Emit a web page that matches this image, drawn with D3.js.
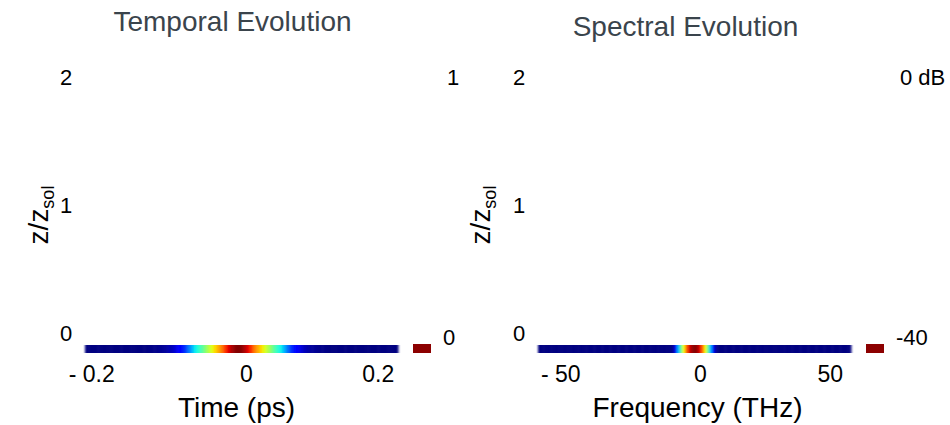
<!DOCTYPE html>
<html><head><meta charset="utf-8">
<script src="https://cdn.jsdelivr.net/npm/d3@7"></script>
<style>body{margin:0;background:#fff}svg{display:block;font-family:"Liberation Sans",Arial,sans-serif}</style>
</head><body><svg id="c" width="950" height="425"></svg>
<script>
// ---------- data ----------
const zTicks = [0, 1, 2];
const zRows = [0];
const zStep = 0.0625;
const timeTicks = [-0.2, 0, 0.2];
const timeTickLabels = ["- 0.2", "0", "0.2"];
const freqTicks = [-50, 0, 50];
const freqTickLabels = ["- 50", "0", "50"];
const timeStart = -0.235, timeStep = 0.005;
const intensity = [
 0,0,0,0,0,0,0,0,0,0,0,0,0,0,0,0,0,0,0,
 0.005,0.007,0.009,0.013,0.02,0.025,0.04,0.055,0.08,0.11,0.14,0.18,0.24,0.30,0.36,0.40,
 0.45,0.51,0.57,0.62,0.68,0.73,0.78,0.85,0.91,0.96,0.99,
 1.00,
 0.99,0.96,0.91,0.85,0.78,0.73,0.68,0.62,0.57,0.51,0.45,0.40,0.36,0.30,0.24,0.18,
 0.14,0.11,0.08,0.055,0.04,0.025,0.02,0.013,0.009,0.007,0.005,
 0,0,0,0,0,0,0,0,0,0,0,0,0,0,0,0,0,0,0,0,0
];
const freqStart = -58, freqStep = 1;
const spectrumDb = [
 -40,-40,-40,-40,-40,-40,-40,-40,-40,-40,-40,-40,-40,-40,-40,-40,-40,-40,-40,-40,
 -40,-40,-40,-40,-40,-40,-40,-40,-40,-40,-40,-40,-40,-40,-40,-40,-40,-40,-40,-40,
 -40,-40,-40,-40,-40,-40,-40,-40,-40,-40,
 -39,-34,-28,-21,-14,-8,-3.5,-1,
 0,
 -1,-3.5,-8,-14,-21,-28,-34,-39,
 -40,-40,-40,-40,-40,-40,-40,-40,-40,-40,-40,-40,-40,-40,-40,-40,-40,-40,-40,-40,
 -40,-40,-40,-40,-40,-40,-40,-40,-40,-40,-40,-40,-40,-40,-40,-40,-40,-40,-40,-40,
 -40,-40,-40,-40,-40,-40,-40,-40,-40,-40
];
const cbarTemporal = ["1", "0"];
const cbarSpectral = ["0 dB", "-40"];
const cbarDomainDb = [-40, 0];

// ---------- colormap (jet) ----------
const jr = d3.scaleLinear().domain([0,0.35,0.66,0.89,1]).range([0,0,1,1,0.5]).clamp(true);
const jg = d3.scaleLinear().domain([0,0.125,0.375,0.64,0.91,1]).range([0,0,1,1,0,0]).clamp(true);
const jb = d3.scaleLinear().domain([0,0.11,0.34,0.65,1]).range([0.5,1,1,0,0]).clamp(true);
const jet = v => d3.rgb(jr(v)*255, jg(v)*255, jb(v)*255).toString();

const svg = d3.select("#c");
const defs = svg.append("defs");
defs.append("filter").attr("id","soft").attr("x","-2%").attr("y","-50%").attr("width","104%").attr("height","200%")
  .append("feGaussianBlur").attr("stdDeviation","1.2 0.6");

const yScale = d3.scaleLinear().domain([0, 2]).range([349, 93]);

function panel(o) {
  const x = d3.scaleLinear().domain(o.domain).range(o.range);
  const g = svg.append("g");
  const heat = g.append("g").attr("filter","url(#soft)");
  zRows.forEach(z => {
    heat.selectAll(null).data(o.values).enter().append("rect")
      .attr("x", (d,i) => x(o.start + i*o.step - o.step/2))
      .attr("width", (d,i) => x(o.start + i*o.step + o.step/2) - x(o.start + i*o.step - o.step/2) + 0.5)
      .attr("y", yScale(z + zStep/2))
      .attr("height", yScale(z - zStep/2) - yScale(z + zStep/2))
      .attr("fill", d => jet(o.norm(d)));
  });
  // colorbar
  const cbX = o.range[1] + 15;
  g.append("rect").attr("x", cbX).attr("width", 18)
    .attr("y", yScale(zStep/2) - 1).attr("height", yScale(-zStep/2) - yScale(zStep/2) + 1)
    .attr("fill", "#8c0000");
  g.append("text").attr("x", cbX + 34).attr("y", yScale(2) - 16).attr("dy","0.35em")
    .attr("font-size", 22).text(o.cbar[0]);
  g.append("text").attr("x", cbX + 30).attr("y", yScale(0) - 12).attr("dy","0.35em")
    .attr("font-size", 22).text(o.cbar[1]);
  // y ticks
  g.selectAll(null).data(zTicks).enter().append("text")
    .attr("x", o.range[0] - 19).attr("y", d => yScale(d) - 16).attr("dy","0.35em")
    .attr("text-anchor","middle").attr("font-size", 22).text(d => d);
  // x ticks
  g.selectAll(null).data(o.ticks).enter().append("text")
    .attr("x", (d,i) => x(d) + o.tickDx[i]).attr("y", yScale(0) + 33)
    .attr("text-anchor","middle").attr("font-size", 23).text((d,i) => o.tickLabels[i]);
  // titles
  const cx = (o.range[0] + o.range[1]) / 2;
  g.append("text").attr("x", cx - 9).attr("y", o.titleY).attr("text-anchor","middle")
    .attr("font-size", 28).attr("fill","#3a444c").text(o.title);
  g.append("text").attr("x", cx + o.xlabDx).attr("y", 417).attr("text-anchor","middle")
    .attr("font-size", 28).attr("fill","#000").text(o.xlabel);
  const yt = g.append("text").attr("transform", `translate(${o.ylabX},215) rotate(-90)`)
    .attr("text-anchor","middle").attr("font-size", 28);
  yt.append("tspan").text("z/z");
  yt.append("tspan").attr("font-size", 18).attr("dy", "0.35em").text("sol");
}

panel({
  domain: [-0.2375, 0.2375], range: [85, 398],
  values: intensity, start: timeStart, step: timeStep, norm: v => v,
  ticks: timeTicks, tickLabels: timeTickLabels, tickDx: [-18, 5, 5],
  cbar: cbarTemporal, title: "Temporal Evolution", titleY: 31,
  xlabel: "Time (ps)", xlabDx: -5, ylabX: 48
});
panel({
  domain: [-58.5, 58.5], range: [538, 851],
  values: spectrumDb, start: freqStart, step: freqStep,
  norm: v => (v - cbarDomainDb[0]) / (cbarDomainDb[1] - cbarDomainDb[0]),
  ticks: freqTicks, tickLabels: freqTickLabels, tickDx: [0, 6, 2],
  cbar: cbarSpectral, title: "Spectral Evolution", titleY: 36,
  xlabel: "Frequency (THz)", xlabDx: 3, ylabX: 490
});
</script></body></html>
